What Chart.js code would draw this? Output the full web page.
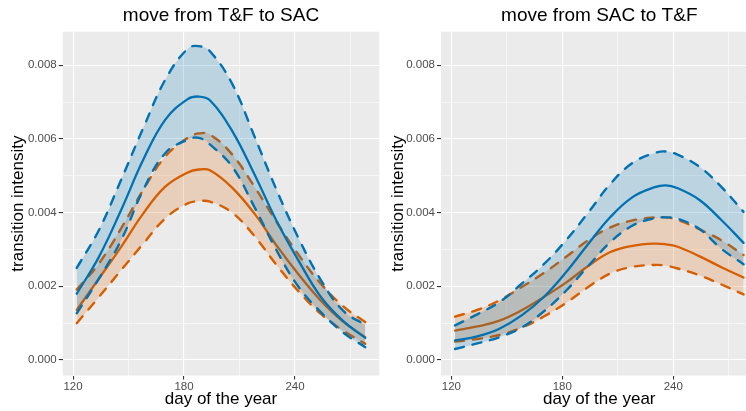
<!DOCTYPE html>
<html>
<head>
<meta charset="utf-8">
<script src="https://cdn.jsdelivr.net/npm/chart.js@4.4.1/dist/chart.umd.min.js"></script>
<style>
  html, body { margin: 0; padding: 0; background: #fff; overflow: hidden; }
  canvas { position: absolute; top: 0; }
  #left { left: 0; }
  #right { left: 380px; }
</style>
</head>
<body>
<canvas id="left" width="380" height="411"></canvas>
<canvas id="right" width="378" height="411"></canvas>
<script>
// data
const xTicks = [120, 150, 180, 210, 240, 270];
const yTicks = [0, 0.001, 0.002, 0.003, 0.004, 0.005, 0.006, 0.007, 0.008];

// move from T&F to SAC
const leftDays   = [122, 134, 146, 158, 170, 182, 188, 194, 206, 218, 230, 242, 254, 266, 278];
const blueUpL    = [0.00250, 0.00353, 0.00489, 0.00630, 0.00762, 0.00845, 0.00852, 0.00838, 0.00750, 0.00608, 0.00462, 0.00330, 0.00217, 0.00134, 0.00095];
const blueMidL   = [0.00180, 0.00280, 0.00407, 0.00544, 0.00653, 0.00708, 0.00715, 0.00705, 0.00622, 0.00505, 0.00378, 0.00269, 0.00171, 0.00106, 0.00060];
const blueLoL    = [0.00127, 0.00221, 0.00325, 0.00462, 0.00562, 0.00598, 0.00603, 0.00585, 0.00525, 0.00416, 0.00298, 0.00198, 0.00130, 0.00075, 0.00035];
const orangeUpL  = [0.00191, 0.00262, 0.00357, 0.00462, 0.00553, 0.00603, 0.00615, 0.00612, 0.00558, 0.00471, 0.00375, 0.00285, 0.00207, 0.00146, 0.00103];
const orangeMidL = [0.00136, 0.00221, 0.00307, 0.00398, 0.00471, 0.00509, 0.00517, 0.00515, 0.00468, 0.00398, 0.00311, 0.00232, 0.00161, 0.00104, 0.00062];
const orangeLoL  = [0.00100, 0.00171, 0.00244, 0.00316, 0.00385, 0.00425, 0.00431, 0.00430, 0.00400, 0.00337, 0.00258, 0.00186, 0.00125, 0.00080, 0.00044];

// move from SAC to T&F
const rightDays  = [122, 134, 146, 158, 170, 182, 194, 206, 218, 230, 236, 242, 254, 266, 278];
const blueUpR    = [0.00094, 0.00124, 0.00157, 0.00207, 0.00260, 0.00325, 0.00400, 0.00478, 0.00535, 0.00562, 0.00566, 0.00558, 0.00525, 0.00470, 0.00402];
const blueMidR   = [0.00053, 0.00064, 0.00085, 0.00121, 0.00171, 0.00238, 0.00315, 0.00388, 0.00442, 0.00469, 0.00474, 0.00467, 0.00435, 0.00380, 0.00318];
const blueLoR    = [0.00030, 0.00045, 0.00062, 0.00088, 0.00132, 0.00188, 0.00255, 0.00320, 0.00365, 0.00385, 0.00387, 0.00384, 0.00356, 0.00302, 0.00260];
const orangeUpR  = [0.00118, 0.00136, 0.00162, 0.00198, 0.00236, 0.00280, 0.00325, 0.00360, 0.00379, 0.00387, 0.00387, 0.00381, 0.00355, 0.00325, 0.00285];
const orangeMidR = [0.00080, 0.00091, 0.00107, 0.00135, 0.00171, 0.00210, 0.00255, 0.00293, 0.00310, 0.00316, 0.00314, 0.00308, 0.00282, 0.00252, 0.00224];
const orangeLoR  = [0.00050, 0.00057, 0.00068, 0.00088, 0.00118, 0.00155, 0.00198, 0.00235, 0.00253, 0.00258, 0.00256, 0.00249, 0.00230, 0.00205, 0.00178];

const BLUE = '#0072B2', ORANGE = '#D55E00';
const FONT = "'Liberation Sans', Arial, Helvetica, sans-serif";

// grey panel like ggplot
var panelBg = {
    id: 'panelBg',
    beforeDraw: function(chart) {
        var a = chart.chartArea, c = chart.ctx;
        c.save();
        c.fillStyle = '#EBEBEB';
        c.fillRect(a.left, a.top, a.right - a.left, a.bottom - a.top);
        c.restore();
    }
};

function isMajor(v, step) {
    var r = v / step;
    return Math.abs(r - Math.round(r)) < 1e-6;
}

function pts(days, vals) {
    return days.map(function(d, i) { return { x: d, y: vals[i] }; });
}

function line(days, vals, color, dashed, fill, bg) {
    return {
        data: pts(days, vals),
        borderColor: color,
        borderWidth: dashed ? 2.4 : 2.3,
        borderDash: dashed ? [9, 9] : [],
        borderCapStyle: 'round',
        pointRadius: 0,
        tension: 0.4,
        fill: fill,
        backgroundColor: bg || 'transparent'
    };
}

function panel(id, title, days, bUp, bMid, bLo, oUp, oMid, oLo, yWidth, padRight) {
    // drawn last-to-first: orange ribbon + lines, then blue ribbon + lines
    var datasets = [
        line(days, bLo, BLUE, true, false),
        line(days, bMid, BLUE, false, false),
        line(days, bUp, BLUE, true, 0, 'rgba(0,114,178,0.2)'),
        line(days, oLo, ORANGE, true, false),
        line(days, oMid, ORANGE, false, false),
        line(days, oUp, ORANGE, true, 3, 'rgba(213,94,0,0.2)')
    ];
    return new Chart(document.getElementById(id), {
        type: 'line',
        data: { datasets: datasets },
        plugins: [panelBg],
        options: {
            responsive: false,
            animation: false,
            devicePixelRatio: 1,
            events: [],
            layout: { padding: { left: 0, right: padRight, top: 0, bottom: 0 } },
            plugins: {
                legend: { display: false },
                tooltip: { enabled: false },
                filler: { drawTime: 'beforeDatasetDraw' },
                title: {
                    display: true,
                    text: title,
                    fullSize: false,
                    color: '#000',
                    font: { family: FONT, size: 19, weight: 'normal' },
                    padding: { top: 4.7, bottom: 4.2 }
                }
            },
            scales: {
                x: {
                    type: 'linear',
                    min: 114.4,
                    max: 285.6,
                    afterBuildTicks: function(s) { s.ticks = xTicks.map(function(v) { return { value: v }; }); },
                    afterFit: function(s) { s.height = 35.5; },
                    ticks: {
                        autoSkip: false,
                        maxRotation: 0,
                        padding: 0,
                        color: '#4D4D4D',
                        font: { family: FONT, size: 11.5 },
                        callback: function(v) { return isMajor(v, 60) ? String(v) : ''; }
                    },
                    grid: {
                        color: '#FFFFFF',
                        lineWidth: function(c) { return isMajor(c.tick.value, 60) ? 1.1 : 0.55; },
                        tickLength: 4,
                        tickWidth: 1.1,
                        tickColor: function(c) { return isMajor(c.tick.value, 60) ? '#333333' : 'rgba(0,0,0,0)'; }
                    },
                    border: { display: false },
                    title: {
                        display: true,
                        text: 'day of the year',
                        color: '#000',
                        font: { family: FONT, size: 17 },
                        padding: { top: 0, bottom: 1.2 }
                    }
                },
                y: {
                    min: -0.00042,
                    max: 0.00891,
                    afterBuildTicks: function(s) { s.ticks = yTicks.map(function(v) { return { value: v }; }); },
                    afterFit: function(s) { s.width = yWidth; },
                    ticks: {
                        padding: 2,
                        color: '#4D4D4D',
                        font: { family: FONT, size: 11.5 },
                        callback: function(v) { return isMajor(v, 0.002) ? v.toFixed(3) : ''; }
                    },
                    grid: {
                        color: '#FFFFFF',
                        lineWidth: function(c) { return isMajor(c.tick.value, 0.002) ? 1.1 : 0.55; },
                        tickLength: 4,
                        tickWidth: 1.1,
                        tickColor: function(c) { return isMajor(c.tick.value, 0.002) ? '#333333' : 'rgba(0,0,0,0)'; }
                    },
                    border: { display: false },
                    title: {
                        display: true,
                        text: 'transition intensity',
                        color: '#000',
                        font: { family: FONT, size: 17 },
                        padding: { top: 8.5, bottom: 0 }
                    }
                }
            }
        }
    });
}

var chartL = panel('left', 'move from T&F to SAC', leftDays,
    blueUpL, blueMidL, blueLoL, orangeUpL, orangeMidL, orangeLoL, 62.7, 0.7);
var chartR = panel('right', 'move from SAC to T&F', rightDays,
    blueUpR, blueMidR, blueLoR, orangeUpR, orangeMidR, orangeLoR, 61, 0.4);
</script>
</body>
</html>
